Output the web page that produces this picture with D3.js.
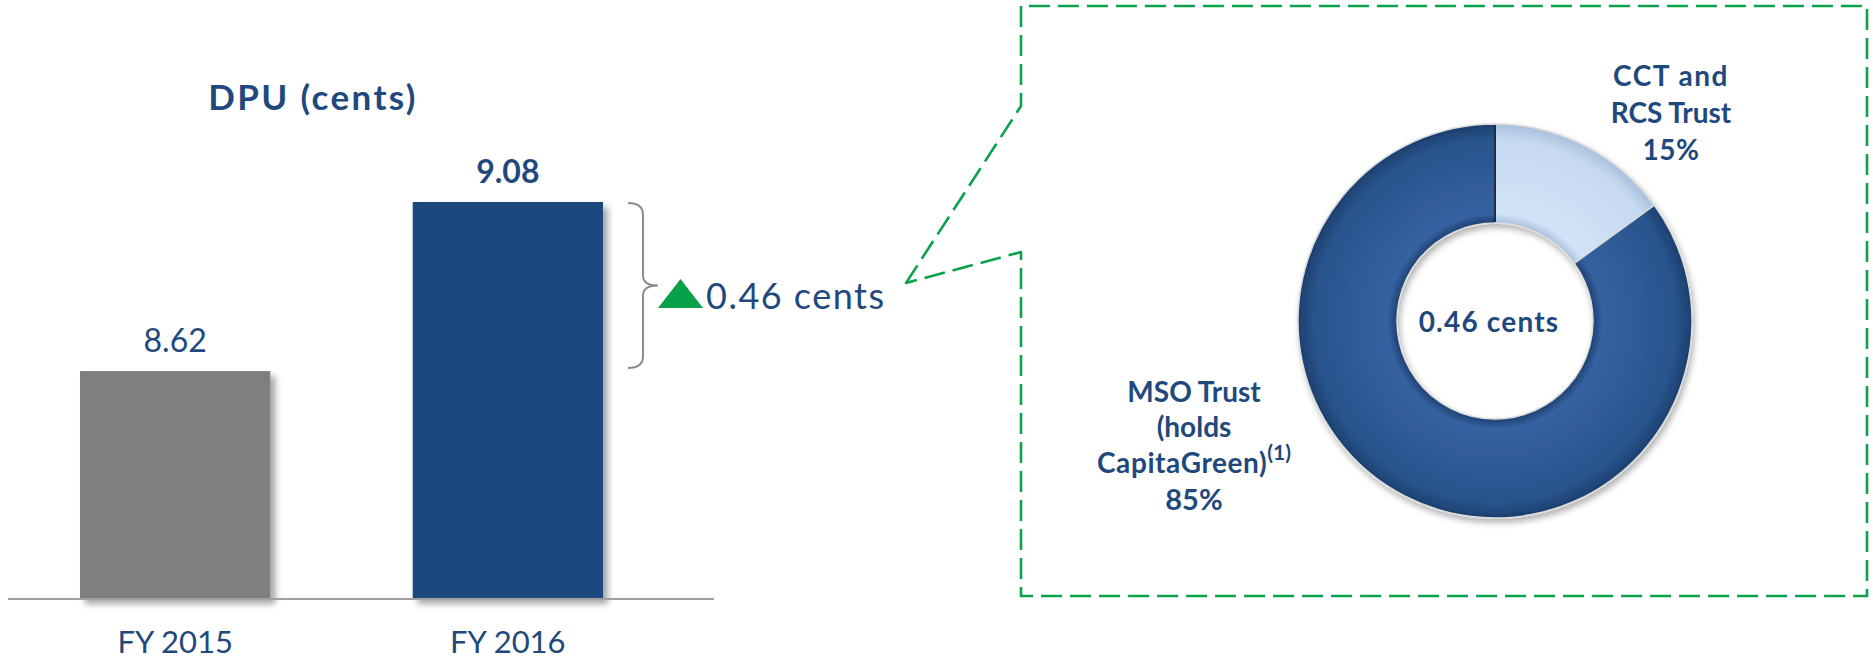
<!DOCTYPE html>
<html>
<head>
<meta charset="utf-8">
<script src="https://cdn.jsdelivr.net/npm/d3@7"></script>
<style>
  html, body { margin: 0; padding: 0; background: #ffffff; }
  svg { display: block; font-family: Lato, "Open Sans", sans-serif; }
</style>
</head>
<body>
<svg id="chart" width="1873" height="663"></svg>
<script>
// ---- data ----
const categories = ["FY 2015", "FY 2016"];
const dpuValues = [8.62, 9.08];
const dpuLabels = ["8.62", "9.08"];
const changeLabel = "0.46 cents";
const sliceNames = ["CCT and RCS Trust", "MSO Trust (holds CapitaGreen)"];
const sliceShares = [15, 85];
const sliceLabels = ["15%", "85%"];

const TEXT = "#1f497d";
const svg = d3.select("#chart");
const defs = svg.append("defs");

// shadows
const sh = defs.append("filter").attr("id", "barShadow")
  .attr("x", "-10%").attr("y", "-10%").attr("width", "130%").attr("height", "130%");
sh.append("feDropShadow").attr("dx", 5).attr("dy", 5).attr("stdDeviation", 3)
  .attr("flood-color", "#000").attr("flood-opacity", 0.35);
const dsh = defs.append("filter").attr("id", "donutShadow")
  .attr("x", "-20%").attr("y", "-20%").attr("width", "140%").attr("height", "140%");
dsh.append("feDropShadow").attr("dx", 2).attr("dy", 4).attr("stdDeviation", 3)
  .attr("flood-color", "#000").attr("flood-opacity", 0.3);

// ---- bar chart ----
const baseY = 599;
const x = d3.scaleBand().domain(categories).range([80, 603]).paddingInner(0.428).paddingOuter(0);
const y = d3.scaleLinear().domain([8, 9.08]).range([baseY, 202]);
const barColors = ["#7f7f7f", "#1f497d"];

svg.append("text").attr("x", 313).attr("y", 110).attr("text-anchor", "middle")
  .attr("font-size", 35).attr("font-weight", 700).attr("letter-spacing", 2.4)
  .attr("fill", TEXT).text("DPU (cents)");

svg.append("g").selectAll("rect").data(dpuValues).join("rect")
  .attr("x", (d, i) => x(categories[i]))
  .attr("y", d => y(d))
  .attr("width", x.bandwidth())
  .attr("height", d => baseY - y(d))
  .attr("fill", (d, i) => barColors[i])
  .attr("filter", "url(#barShadow)");

svg.append("line").attr("x1", 8).attr("x2", 714).attr("y1", baseY).attr("y2", baseY)
  .attr("stroke", "#a0a0a0").attr("stroke-width", 2);

svg.append("g").selectAll("text").data(dpuValues).join("text")
  .attr("x", (d, i) => x(categories[i]) + x.bandwidth() / 2)
  .attr("y", d => y(d) - 19)
  .attr("text-anchor", "middle")
  .attr("font-size", 32)
  .attr("font-weight", (d, i) => i === 1 ? 700 : 400)
  .attr("fill", TEXT)
  .text((d, i) => dpuLabels[i]);

svg.append("g").selectAll("text").data(categories).join("text")
  .attr("x", d => x(d) + x.bandwidth() / 2)
  .attr("y", 653)
  .attr("text-anchor", "middle")
  .attr("font-size", 31)
  .attr("fill", TEXT)
  .text(d => d);

// brace between the two values
const bTop = y(dpuValues[1]) + 1, bBot = y(dpuValues[0]) - 3;
const bMid = (bTop + bBot) / 2;
const bx0 = 628, bx1 = 643, bTip = 658;
svg.append("path")
  .attr("d", `M${bx0},${bTop} Q${bx1},${bTop} ${bx1},${bTop + 12} L${bx1},${bMid - 10} Q${bx1},${bMid} ${bTip},${bMid} Q${bx1},${bMid} ${bx1},${bMid + 10} L${bx1},${bBot - 12} Q${bx1},${bBot} ${bx0},${bBot}`)
  .attr("fill", "none").attr("stroke", "#8c8c8c").attr("stroke-width", 2);

svg.append("path").attr("d", "M658,308 L703,308 L680.5,279 Z").attr("fill", "#09a04a");
svg.append("text").attr("x", 706).attr("y", 309).attr("font-size", 36).attr("letter-spacing", 1.5)
  .attr("fill", TEXT).text(changeLabel);

// callout dashed box
svg.append("path")
  .attr("d", "M906,283 L1021,106 L1021,6 L1867,6 L1867,596 L1021,596 L1021,252 Z")
  .attr("fill", "none").attr("stroke", "#0ba24b").attr("stroke-width", 2.6)
  .attr("stroke-dasharray", "21 8").attr("stroke-linejoin", "round");

// ---- donut ----
const cx = 1495, cy = 321, R = 197, r = 98;
function grad(id, c) {
  const g = defs.append("radialGradient").attr("id", id).attr("gradientUnits", "userSpaceOnUse")
    .attr("cx", 0).attr("cy", 0).attr("r", R);
  g.append("stop").attr("offset", r / R).attr("stop-color", c[0]);
  g.append("stop").attr("offset", r / R + 0.05).attr("stop-color", c[1]);
  g.append("stop").attr("offset", 0.92).attr("stop-color", c[2]);
  g.append("stop").attr("offset", 1).attr("stop-color", c[3]);
}
grad("gLight", ["#a9c1df", "#d3e3f6", "#c6d9f1", "#a9c0dc"]);
grad("gDark", ["#1f4172", "#3562a0", "#28548d", "#1d3f6e"]);

const pie = d3.pie().sort(null).value(d => d)(sliceShares);
const arc = d3.arc().innerRadius(r).outerRadius(R);
const dg = svg.append("g").attr("transform", `translate(${cx},${cy})`).attr("filter", "url(#donutShadow)");
dg.selectAll("path").data(pie).join("path")
  .attr("d", arc)
  .attr("fill", (d, i) => i === 0 ? "url(#gLight)" : "url(#gDark)")
  .attr("stroke", "#dcdcdc").attr("stroke-width", 1.5);
// dark seam at the top split
dg.append("line").attr("x1", 0).attr("x2", 0).attr("y1", -R + 1).attr("y2", -r - 1)
  .attr("stroke", "#1a2f4d").attr("stroke-width", 2);

svg.append("text").attr("x", cx - 6).attr("y", 332).attr("text-anchor", "middle")
  .attr("font-size", 28).attr("font-weight", 700).attr("letter-spacing", 1.2)
  .attr("fill", TEXT).text(changeLabel);

// slice labels
const lab1 = svg.append("text").attr("text-anchor", "middle").attr("font-size", 28)
  .attr("font-weight", 700).attr("fill", TEXT);
[["CCT and", 86, 1.5], ["RCS Trust", 123, 0], [sliceLabels[0], 160, 0.5]].forEach(([t, yy, ls]) =>
  lab1.append("tspan").attr("x", 1671).attr("y", yy).attr("letter-spacing", ls).text(t));

const lab2 = svg.append("text").attr("text-anchor", "middle").attr("font-size", 28)
  .attr("font-weight", 700).attr("fill", TEXT);
lab2.append("tspan").attr("x", 1194).attr("y", 402).text("MSO Trust");
lab2.append("tspan").attr("x", 1194).attr("y", 437).text("(holds");
const l3 = svg.append("text").attr("x", 1194).attr("y", 473).attr("text-anchor", "middle")
  .attr("font-size", 28).attr("font-weight", 700).attr("fill", TEXT);
l3.append("tspan").attr("letter-spacing", 0.6).text("CapitaGreen)");
l3.append("tspan").attr("font-size", 21).attr("dy", -13).text("(1)");
svg.append("text").attr("x", 1194).attr("y", 510).attr("text-anchor", "middle")
  .attr("font-size", 29).attr("font-weight", 700).attr("fill", TEXT).text(sliceLabels[1]);
</script>
</body>
</html>
